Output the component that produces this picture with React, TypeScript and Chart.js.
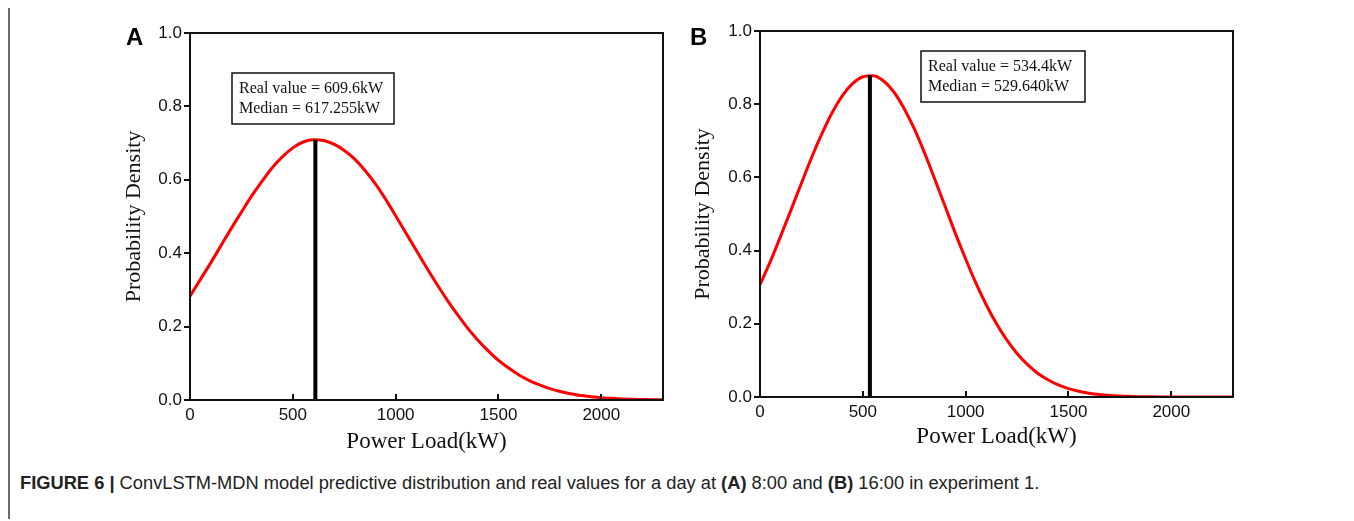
import React, { useEffect, useRef } from "react";
import { Chart, registerables } from "chart.js";

Chart.register(...registerables);

// ---------- data ----------
const loadKW = [
  0, 50, 100, 150, 200, 250, 300, 350, 400, 450, 500, 550, 600, 650, 700, 750, 800, 850, 900, 950,
  1000, 1050, 1100, 1150, 1200, 1250, 1300, 1350, 1400, 1450, 1500, 1550, 1600, 1650, 1700, 1750,
  1800, 1850, 1900, 1950, 2000, 2050, 2100, 2150, 2200, 2250, 2300,
];
const densityA = [
  0.283, 0.328, 0.373, 0.42, 0.467, 0.512, 0.556, 0.596, 0.633, 0.663, 0.687, 0.703, 0.709, 0.707, 0.697, 0.68,
  0.657, 0.626, 0.59, 0.548, 0.502, 0.455, 0.408, 0.361, 0.316, 0.273, 0.233, 0.196, 0.163, 0.134, 0.108, 0.087,
  0.068, 0.053, 0.041, 0.031, 0.023, 0.017, 0.012, 0.009, 0.006, 0.0045, 0.003, 0.002, 0.0015, 0.001, 0.0007,
];
const densityB = [
  0.307, 0.37, 0.439, 0.51, 0.582, 0.653, 0.718, 0.776, 0.823, 0.856, 0.875, 0.878, 0.864, 0.834, 0.789, 0.733,
  0.667, 0.595, 0.521, 0.447, 0.377, 0.311, 0.252, 0.2, 0.156, 0.119, 0.089, 0.065, 0.047, 0.033, 0.023, 0.0157,
  0.0104, 0.0068, 0.0044, 0.0027, 0.0017, 0.001, 0.0006, 0.0003, 0.0002, 0.0001, 0.0001, 0, 0, 0, 0,
];
const realValueA = 609.6;
const peakA = 0.709;
const realValueB = 534.4;
const peakB = 0.879;
const annotationA = ["Real value = 609.6kW", "Median = 617.255kW"];
const annotationB = ["Real value = 534.4kW", "Median = 529.640kW"];
const xTickValues = [0, 500, 1000, 1500, 2000];
const yTickValues = [0, 0.2, 0.4, 0.6, 0.8, 1.0];
const xTitle = "Power Load(kW)";
const yTitle = "Probability Density";

const SANS = "'Liberation Sans', Arial, Helvetica, sans-serif";
const SERIF = "'Liberation Serif', 'Times New Roman', Times, serif";

const framePlugin = {
  id: "frame",
  afterDatasetsDraw(chart: any, _args: any, opts: any) {
    const { ctx, chartArea, scales } = chart;
    const { left, top, right, bottom } = chartArea;
    const x = scales.x;
    const y = scales.y;
    ctx.save();
    ctx.strokeStyle = "#111";
    ctx.lineWidth = 2;
    ctx.strokeRect(left, top, right - left, bottom - top);
    ctx.beginPath();
    for (const v of yTickValues) {
      const py = Math.round(y.getPixelForValue(v));
      ctx.moveTo(left - 6, py);
      ctx.lineTo(left, py);
    }
    for (const v of xTickValues) {
      if (v === 0) continue;
      const px = Math.round(x.getPixelForValue(v));
      ctx.moveTo(px, bottom);
      ctx.lineTo(px, bottom - 6);
    }
    ctx.stroke();

    // annotation box
    const bx = left + opts.boxDX;
    const by = top + opts.boxDY;
    ctx.lineWidth = 1.5;
    ctx.strokeStyle = "#111";
    ctx.fillStyle = "#fff";
    ctx.fillRect(bx, by, opts.boxW, opts.boxH);
    ctx.strokeRect(bx, by, opts.boxW, opts.boxH);
    ctx.fillStyle = "#111";
    ctx.font = `16px ${SERIF}`;
    ctx.textBaseline = "middle";
    ctx.textAlign = "left";
    opts.lines.forEach((t: string, i: number) => {
      ctx.fillText(t, bx + 7, by + 16 + i * 20);
    });

    // panel letter
    ctx.font = `bold 24px ${SANS}`;
    ctx.textBaseline = "alphabetic";
    ctx.fillStyle = "#000";
    ctx.fillText(opts.letter, opts.letterX, opts.letterY);
    ctx.restore();
  },
};

type PanelProps = {
  left: number;
  top: number;
  width: number;
  height: number;
  density: number[];
  realValue: number;
  peak: number;
  lines: string[];
  letter: string;
  letterX: number;
  letterY: number;
  boxDX: number;
  boxDY: number;
  boxW: number;
  boxH: number;
  padTop: number;
  padRight: number;
  yWidth: number;
  xHeight: number;
  yTitlePad: number;
  xTitlePad: number;
};

function Panel(p: PanelProps) {
  const ref = useRef<HTMLCanvasElement | null>(null);
  useEffect(() => {
    if (!ref.current) return;
    const curve = loadKW.map((v, i) => ({ x: v, y: p.density[i] }));
    const real = [
      { x: p.realValue, y: 0 },
      { x: p.realValue, y: p.peak },
    ];
    const chart = new Chart(ref.current, {
      type: "line",
      data: {
        datasets: [
          {
            data: real,
            borderColor: "#000",
            borderWidth: 4,
            pointRadius: 0,
            borderCapStyle: "butt",
          } as any,
          {
            data: curve,
            borderColor: "#f00",
            borderWidth: 3,
            pointRadius: 0,
            cubicInterpolationMode: "monotone",
            fill: false,
          } as any,
        ],
      },
      options: {
        responsive: false,
        maintainAspectRatio: false,
        animation: false,
        events: [],
        layout: { padding: { left: 0, right: p.padRight, top: p.padTop, bottom: 0 } },
        plugins: {
          legend: { display: false },
          tooltip: { enabled: false },
          frame: {
            letter: p.letter,
            letterX: p.letterX,
            letterY: p.letterY,
            lines: p.lines,
            boxDX: p.boxDX,
            boxDY: p.boxDY,
            boxW: p.boxW,
            boxH: p.boxH,
          },
        } as any,
        scales: {
          x: {
            type: "linear",
            min: 0,
            max: 2300,
            grid: { display: false, drawTicks: false },
            border: { display: false },
            afterBuildTicks: (s: any) => {
              s.ticks = xTickValues.map((v) => ({ value: v }));
            },
            afterFit: (s: any) => {
              s.height = p.xHeight;
            },
            ticks: {
              autoSkip: false,
              maxRotation: 0,
              padding: 5,
              color: "#111",
              font: { family: SANS, size: 17 },
              callback: (v: any) => String(v),
            },
            title: {
              display: true,
              text: xTitle,
              color: "#111",
              font: { family: SERIF, size: 23 },
              padding: { top: 0, bottom: p.xTitlePad },
            },
          },
          y: {
            type: "linear",
            min: 0,
            max: 1,
            grid: { display: false, drawTicks: false },
            border: { display: false },
            afterBuildTicks: (s: any) => {
              s.ticks = yTickValues.map((v) => ({ value: v }));
            },
            afterFit: (s: any) => {
              s.width = p.yWidth;
            },
            ticks: {
              autoSkip: false,
              padding: 8,
              color: "#111",
              font: { family: SANS, size: 17 },
              callback: (v: any) => Number(v).toFixed(1),
            },
            title: {
              display: true,
              text: yTitle,
              color: "#111",
              font: { family: SERIF, size: 22 },
              padding: { top: p.yTitlePad, bottom: 0 },
            },
          },
        },
      },
      plugins: [framePlugin as any],
    });
    return () => chart.destroy();
  }, []);
  return (
    <canvas
      ref={ref}
      width={p.width}
      height={p.height}
      style={{ position: "absolute", left: p.left, top: p.top, width: p.width, height: p.height }}
    />
  );
}

export default function App() {
  return (
    <div
      style={{
        position: "relative",
        marginTop: -2,
        width: 1346,
        height: 513,
        boxSizing: "border-box",
        borderTop: "2px solid #6b6b6b",
        borderLeft: "2px solid #6b6b6b",
        borderRight: "2px solid #6b6b6b",
        background: "#fff",
      }}
    >
      <Panel
        left={90}
        top={2}
        width={580}
        height={460}
        density={densityA}
        realValue={realValueA}
        peak={peakA}
        lines={annotationA}
        letter="A"
        letterX={26}
        letterY={35}
        boxDX={42}
        boxDY={40}
        boxW={162}
        boxH={51}
        padTop={23}
        padRight={17}
        yWidth={90}
        xHeight={70}
        yTitlePad={21}
        xTitlePad={14}
      />
      <Panel
        left={660}
        top={0}
        width={580}
        height={460}
        density={densityB}
        realValue={realValueB}
        peak={peakB}
        lines={annotationB}
        letter="B"
        letterX={20}
        letterY={37}
        boxDX={161}
        boxDY={20}
        boxW={164}
        boxH={51}
        padTop={23}
        padRight={17}
        yWidth={90}
        xHeight={71}
        yTitlePad={20}
        xTitlePad={17}
      />
      <div
        style={{
          position: "absolute",
          left: 10,
          top: 464,
          fontFamily: SANS,
          fontSize: 18.3,
          lineHeight: "22px",
          color: "#222",
          whiteSpace: "nowrap",
        }}
      >
        <b>FIGURE 6 |</b> ConvLSTM-MDN model predictive distribution and real values for a day at <b>(A)</b> 8:00 and{" "}
        <b>(B)</b> 16:00 in experiment 1.
      </div>
    </div>
  );
}
